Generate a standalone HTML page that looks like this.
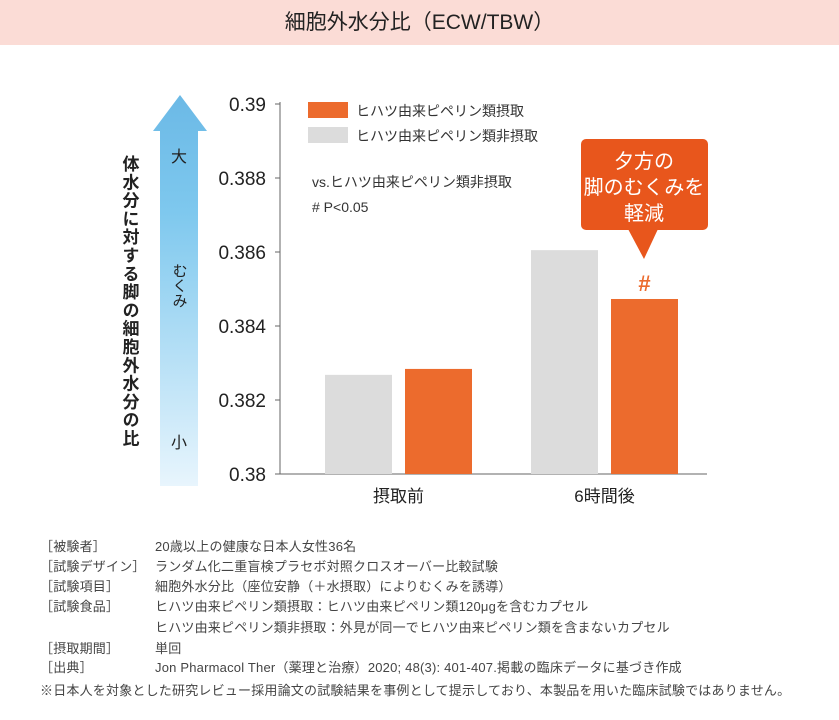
<!DOCTYPE html>
<html><head><meta charset="utf-8"><style>
body{margin:0;width:839px;height:720px;background:#fff;font-family:"Liberation Sans","Noto Sans CJK JP",sans-serif;position:relative;overflow:hidden}
#band{position:absolute;left:0;top:0;width:839px;height:45px;background:#fbdcd6;text-align:center;line-height:45px;font-size:21px;color:#222}
.fn{position:absolute;font-size:13px;color:#444;white-space:nowrap;letter-spacing:0.2px}
</style></head><body>
<div id="band">細胞外水分比（ECW/TBW）</div>
<svg id="chart" width="839" height="520" style="position:absolute;left:0;top:0">
<defs><linearGradient id="ag" x1="0" y1="0" x2="0" y2="1"><stop offset="0" stop-color="#6bb9e6"/><stop offset="0.3" stop-color="#7ec8ee"/><stop offset="1" stop-color="#e8f5fd"/></linearGradient></defs>
<g>
<polygon points="180,95 207,131 198,131 198,486 160,486 160,131 153,131" fill="url(#ag)"/>
<text x="179" y="162" font-size="16" text-anchor="middle" fill="#222">大</text>
<text x="179" y="448" font-size="16" text-anchor="middle" fill="#222">小</text>
<text font-size="15" fill="#222" style="writing-mode:vertical-rl" x="179" y="263">むくみ</text>
</g>
<text x="129" y="155" font-size="17" font-weight="bold" fill="#222" style="writing-mode:vertical-rl;letter-spacing:1.3px">体水分に対する脚の細胞外水分の比</text>
<g id="axes"></g>
<g id="bars"></g>
<g>
<rect x="308" y="102" width="40" height="16" fill="#ec6b2d"/><text x="356" y="116" font-size="14" fill="#333">ヒハツ由来ピペリン類摂取</text>
<rect x="308" y="127" width="40" height="16" fill="#dcdcdc"/><text x="356" y="141" font-size="14" fill="#333">ヒハツ由来ピペリン類非摂取</text>
</g>
<text x="312" y="187" font-size="14" fill="#333">vs.ヒハツ由来ピペリン類非摂取</text>
<text x="312" y="212" font-size="14" fill="#333">#  P&lt;0.05</text>
<g>
<rect x="581" y="139" width="127" height="91" rx="5" fill="#e8561c"/>
<polygon points="628,229 658,229 644,259" fill="#e8561c"/>
<text x="644" y="168" font-size="20" fill="#fff" text-anchor="middle">夕方の</text>
<text x="644" y="194" font-size="20" fill="#fff" text-anchor="middle">脚のむくみを</text>
<text x="644" y="220" font-size="20" fill="#fff" text-anchor="middle">軽減</text>
</g>
</svg>
<div class="fn" style="left:40px;top:536px">［被験者］</div><div class="fn" style="left:155px;top:536px">20歳以上の健康な日本人女性36名</div>
<div class="fn" style="left:40px;top:556px">［試験デザイン］</div><div class="fn" style="left:155px;top:556px">ランダム化二重盲検プラセボ対照クロスオーバー比較試験</div>
<div class="fn" style="left:40px;top:576px">［試験項目］</div><div class="fn" style="left:155px;top:576px">細胞外水分比（座位安静（＋水摂取）によりむくみを誘導）</div>
<div class="fn" style="left:40px;top:596px">［試験食品］</div><div class="fn" style="left:155px;top:596px">ヒハツ由来ピペリン類摂取：ヒハツ由来ピペリン類120μgを含むカプセル</div>
<div class="fn" style="left:155px;top:617px">ヒハツ由来ピペリン類非摂取：外見が同一でヒハツ由来ピペリン類を含まないカプセル</div>
<div class="fn" style="left:40px;top:638px">［摂取期間］</div><div class="fn" style="left:155px;top:638px">単回</div>
<div class="fn" style="left:40px;top:657px">［出典］</div><div class="fn" style="left:155px;top:657px">Jon Pharmacol Ther（薬理と治療）2020; 48(3): 401-407.掲載の臨床データに基づき作成</div>
<div class="fn" style="left:40px;top:680px">※日本人を対象とした研究レビュー採用論文の試験結果を事例として提示しており、本製品を用いた臨床試験ではありません。</div>
<script>
const categories=["摂取前","6時間後"];
const nonIntake=[0.38268,0.38605];
const intake=[0.38284,0.38473];
const yTicks=[0.38,0.382,0.384,0.386,0.388,0.39];
const yTickLabels=["0.38","0.382","0.384","0.386","0.388","0.39"];
const NS="http://www.w3.org/2000/svg";
const y0=474,y1=104,vmin=0.38,vmax=0.39;
function yS(v){return y0-(v-vmin)/(vmax-vmin)*(y0-y1);}
const groupX=[325,531],bw=67,gap=13;
function mk(t,a,p){const e=document.createElementNS(NS,t);for(const k in a)e.setAttribute(k,a[k]);p.appendChild(e);return e;}
const ax=document.getElementById('axes'),bars=document.getElementById('bars');
const yl=mk('line',{x1:280,y1:y1-2,x2:280,y2:y0,stroke:'#666','stroke-width':1},ax);


const xl=mk('line',{x1:280,y1:y0,x2:707,y2:y0,stroke:'#666','stroke-width':1},ax);


yTicks.forEach((v,i)=>{
 mk('line',{x1:275,y1:yS(v),x2:280,y2:yS(v),stroke:'#666'},ax);
 const t=mk('text',{x:266,y:yS(v)+7,'font-size':19,'text-anchor':'end',fill:'#222'},ax);
 t.textContent=yTickLabels[i];
 
 
});
categories.forEach((c,i)=>{
 const gx=groupX[i];
 const g=mk('rect',{x:gx,y:yS(nonIntake[i]),width:bw,height:y0-yS(nonIntake[i]),fill:'#dcdcdc'},bars);
 
 
 const o=mk('rect',{x:gx+bw+gap,y:yS(intake[i]),width:bw,height:y0-yS(intake[i]),fill:'#ec6b2d'},bars);
 
 
 const t=mk('text',{x:gx+bw+gap/2,y:502,'font-size':17,'text-anchor':'middle',fill:'#222'},ax);
 t.textContent=c;
 
 
});
const h=mk('text',{x:groupX[1]+bw+gap+bw/2,y:yS(intake[1])-8,'font-size':22,'font-weight':'bold','text-anchor':'middle',fill:'#ec6b2d'},bars);
h.textContent='#';


</script>
</body></html>
